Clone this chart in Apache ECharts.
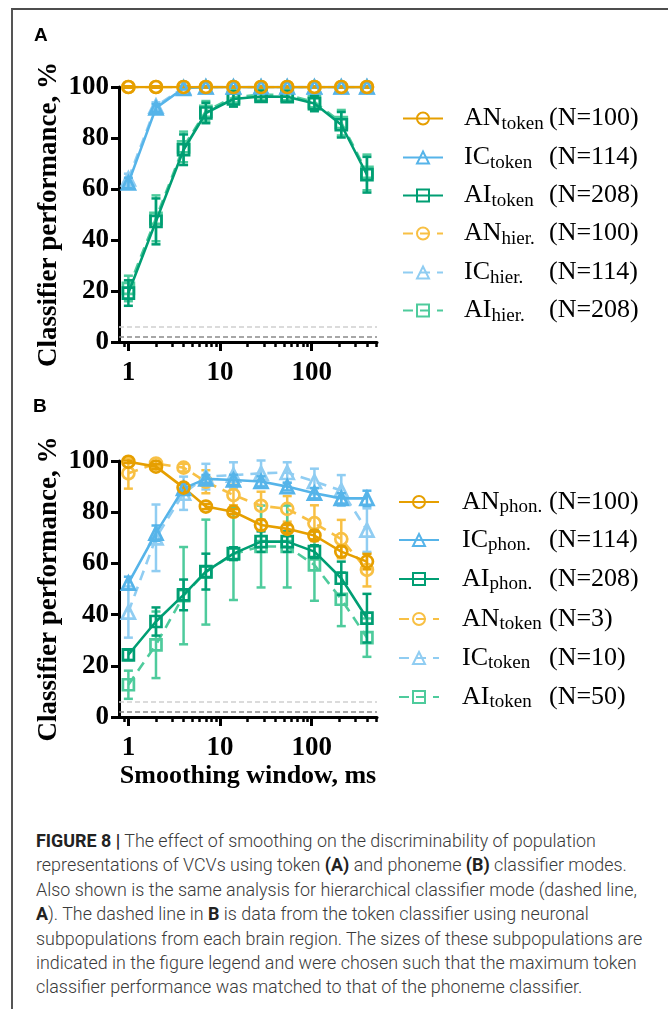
<!DOCTYPE html>
<html>
<head>
<meta charset="utf-8">
<title>Figure 8 - smoothing</title>
<script src="https://cdn.jsdelivr.net/npm/echarts@6/dist/echarts.min.js"></script>
<style>
	body { margin: 0; background: #fff; }
	#frame { position: absolute; left: 11px; top: 8px; width: 680px; height: 1020px; border-top: 2px solid #4d4d4d; border-left: 2px solid #555; }
	#chart { position: absolute; left: 0; top: 0; width: 668px; height: 800px; }
	#caption { position: absolute; left: 36px; top: 829px; font-family: Roboto, 'Liberation Sans', sans-serif; font-weight: 300; font-size: 17.9px; line-height: 24.4px; color: #3a3a3a; white-space: nowrap; }
	#caption b { font-weight: 700; color: #222; }
</style>
</head>
<body>
	<div id="frame"></div>
	<div id="chart"></div>
	<div id="caption">
		<b>FIGURE 8 |</b> The effect of smoothing on the discriminability of population<br>
		representations of VCVs using token <b>(A)</b> and phoneme <b>(B)</b> classifier modes.<br>
		Also shown is the same analysis for hierarchical classifier mode (dashed line,<br>
		<b>A</b>). The dashed line in <b>B</b> is data from the token classifier using neuronal<br>
		subpopulations from each brain region. The sizes of these subpopulations are<br>
		indicated in the figure legend and were chosen such that the maximum token<br>
		classifier performance was matched to that of the phoneme classifier.
	</div>
	<script>
		// smoothing windows (ms)
		var windowsMs = [1, 2, 4, 7, 14, 28, 54, 107, 210, 400];
		var majorTicks = [1, 10, 100];
		var minorTicks = [0.9, 2, 3, 4, 5, 6, 7, 8, 9, 20, 30, 40, 50, 60, 70, 80, 90, 200, 300, 400, 500];
		var chanceLevels = [5.9, 1.9];

		// panel A: token classifier (solid) and hierarchical (dashed)
		var anTokenA    = [100, 100, 100, 100, 100, 100, 100, 100, 100, 100];
		var anTokenAErr = [0.3, 0.3, 0.3, 0.3, 0.3, 0.3, 0.3, 0.3, 0.3, 0.3];
		var icTokenA    = [62.4, 91.8, 99.5, 100, 100, 100, 100, 100, 100, 100];
		var icTokenAErr = [2, 1.5, 0.5, 0.3, 0.3, 0.3, 0.3, 0.3, 0.3, 0.3];
		var aiTokenA    = [19.2, 47.3, 75.4, 89.8, 95.3, 96.3, 96.2, 93.5, 85.2, 65.6];
		var aiTokenAErr = [5, 9, 6, 4, 3, 2, 2, 3, 5, 7];
		var anHierA     = [100, 100, 100, 100, 100, 100, 100, 100, 100, 100];
		var anHierAErr  = [0.3, 0.3, 0.3, 0.3, 0.3, 0.3, 0.3, 0.3, 0.3, 0.3];
		var icHierA     = [64, 92.5, 99.8, 100, 100, 100, 100, 100, 100, 100];
		var icHierAErr  = [2, 1.5, 0.5, 0.3, 0.3, 0.3, 0.3, 0.3, 0.3, 0.3];
		var aiHierA     = [21, 48.5, 76.5, 90.5, 96, 97, 96.8, 94.2, 86, 66.5];
		var aiHierAErr  = [5, 9, 6, 4, 3, 2, 2, 3, 5, 7];

		// panel B: phoneme classifier (solid) and token classifier on subpopulations (dashed)
		var anPhonB    = [99.7, 97.8, 89.6, 82.2, 80.2, 75.0, 73.5, 70.9, 64.6, 60.7];
		var anPhonBErr = [0.5, 1, 1.5, 1, 1, 2, 1.5, 1.5, 2, 3];
		var icPhonB    = [52.3, 71.8, 89.3, 93.0, 92.6, 92.0, 90.0, 87.4, 85.4, 85.4];
		var icPhonBErr = [2.5, 3, 2, 1.5, 2, 2, 1.5, 2, 2, 3];
		var aiPhonB    = [24.3, 37.3, 47.7, 56.8, 63.8, 68.5, 68.5, 64.6, 54.2, 38.6];
		var aiPhonBErr = [2, 5.5, 6, 7, 2.5, 4, 4, 2.5, 6.5, 9.5];
		var anTokB     = [95.2, 99.0, 97.4, 91.9, 86.7, 82.5, 81.3, 75.7, 69.5, 57.5];
		var anTokBErr  = [6, 1, 1.5, 4.5, 4, 5.5, 5, 7, 7.5, 6.5];
		var icTokB     = [41, 70, 87.4, 93.9, 94.5, 95.2, 95.5, 92, 88.5, 73];
		var icTokBErr  = [10, 13, 6.5, 5, 5, 5, 4, 5, 6, 8.5];
		var aiTokB     = [12.6, 28.2, 47.4, 56.6, 63.7, 66.6, 66.6, 59.4, 46, 31];
		var aiTokBErr  = [5.5, 13, 19, 20.5, 18, 16, 16, 14, 10.5, 7.5];

		// legend texts
		var legendMainA = ['AN', 'IC', 'AI', 'AN', 'IC', 'AI'];
		var legendSubA  = ['token', 'token', 'token', 'hier.', 'hier.', 'hier.'];
		var legendNA    = ['(N=100)', '(N=114)', '(N=208)', '(N=100)', '(N=114)', '(N=208)'];
		var legendMainB = ['AN', 'IC', 'AI', 'AN', 'IC', 'AI'];
		var legendSubB  = ['phon.', 'phon.', 'phon.', 'token', 'token', 'token'];
		var legendNB    = ['(N=100)', '(N=114)', '(N=208)', '(N=3)', '(N=10)', '(N=50)'];

		var serif = "'Liberation Serif', 'DejaVu Serif', serif";
		var colAN = '#E69F00', colIC = '#56B4E9', colAI = '#009E73';
		var colANl = '#F8C044', colICl = '#90CDF2', colAIl = '#4ECB9C';

		var ctx = document.createElement('canvas').getContext('2d');
		function textW(str, font) { ctx.font = font; return ctx.measureText(str).width; }

		function pairs(ys) {
			return windowsMs.map(function (x, i) { return [x, ys[i]]; });
		}
		function errData(ys, errs) {
			return windowsMs.map(function (x, i) { return [x, ys[i] - errs[i], ys[i] + errs[i]]; });
		}
		function renderErr(params, api) {
			var lo = api.coord([api.value(0), api.value(1)]);
			var hi = api.coord([api.value(0), api.value(2)]);
			var st = { stroke: api.visual('color'), lineWidth: 2.5 };
			var cap = 4.5;
			return { type: 'group', children: [
				{ type: 'line', shape: { x1: lo[0], y1: lo[1], x2: hi[0], y2: hi[1] }, style: st },
				{ type: 'line', shape: { x1: lo[0] - cap, y1: lo[1], x2: lo[0] + cap, y2: lo[1] }, style: st },
				{ type: 'line', shape: { x1: hi[0] - cap, y1: hi[1], x2: hi[0] + cap, y2: hi[1] }, style: st }
			]};
		}

		var symSize = { circle: 12, triangle: 13, rect: 11 };

		function lineSeries(name, ys, color, dashed, symbol, ai) {
			return {
				name: name, type: 'line', xAxisIndex: ai * 2, yAxisIndex: ai,
				data: pairs(ys),
				symbol: symbol, symbolSize: symSize[symbol],
				lineStyle: { color: color, width: 2.6, type: dashed ? [10, 7] : 'solid' },
				itemStyle: { color: 'rgba(255,255,255,0)', borderColor: color, borderWidth: 2.7 },
				z: dashed ? 2 : 4
			};
		}
		function errSeries(ys, errs, color, dashed, ai) {
			return {
				type: 'custom', xAxisIndex: ai * 2, yAxisIndex: ai,
				data: errData(ys, errs),
				encode: { x: 0, y: [1, 2] },
				renderItem: renderErr,
				itemStyle: { color: color },
				silent: true,
				z: dashed ? 1 : 3
			};
		}

		function xAxes(gi, withName) {
			return [{
				type: 'log', logBase: 10, gridIndex: gi, min: 0.79, max: 515,
				axisLine: { lineStyle: { color: '#000', width: 3 } },
				axisTick: { customValues: majorTicks, length: 9, lineStyle: { color: '#000', width: 3 } },
				axisLabel: { customValues: majorTicks, margin: 18, color: '#000', fontFamily: serif, fontWeight: 'bold', fontSize: 27 },
				splitLine: { show: false },
				name: withName ? 'Smoothing window, ms' : '',
				nameLocation: 'middle', nameGap: 43,
				nameTextStyle: { color: '#000', fontFamily: serif, fontWeight: 'bold', fontSize: 26 }
			}, {
				type: 'log', logBase: 10, gridIndex: gi, min: 0.79, max: 515, position: 'bottom',
				axisLine: { show: false },
				axisTick: { customValues: minorTicks, length: 5, lineStyle: { color: '#000', width: 2.5 } },
				axisLabel: { show: false },
				splitLine: { show: false }
			}];
		}
		function yAxis(gi) {
			return {
				type: 'value', gridIndex: gi, min: 0, max: 100, interval: 20,
				axisLine: { show: true, lineStyle: { color: '#000', width: 3 } },
				axisTick: { show: true, length: 8, lineStyle: { color: '#000', width: 3 } },
				axisLabel: { margin: 10, color: '#000', fontFamily: serif, fontWeight: 'bold', fontSize: 27 },
				splitLine: { show: false },
				name: 'Classifier performance, %', nameLocation: 'middle', nameRotate: 90, nameGap: 56,
				nameTextStyle: { color: '#000', fontFamily: serif, fontWeight: 'bold', fontSize: 27 }
			};
		}

		// one legend per row, so every row sits at its own height
		function rowLegend(name, main, sub, n, left, center, pad, target) {
			var mw = textW(main, '26px ' + serif);
			return {
				data: [name], left: left, top: center - 12.5, padding: 0,
				itemWidth: 40, itemHeight: 15,
				selectedMode: false,
				formatter: '{m|' + main + '}{s|' + sub + '}{n|' + n + '}',
				textStyle: { rich: {
					m: { fontFamily: serif, fontSize: 26, lineHeight: 30, color: '#000', padding: [0, 0, 0, pad] },
					s: { fontFamily: serif, fontSize: 19, lineHeight: 16, verticalAlign: 'bottom', color: '#000', width: Math.max(target - mw, 10) },
					n: { fontFamily: serif, fontSize: 26, lineHeight: 30, color: '#000' }
				} }
			};
		}

		var namesA = ['AN token A', 'IC token A', 'AI token A', 'AN hier A', 'IC hier A', 'AI hier A'];
		var namesB = ['AN phon B', 'IC phon B', 'AI phon B', 'AN token B', 'IC token B', 'AI token B'];
		var rowsA = [118, 157, 195, 233, 272, 310];
		var rowsB = [501, 539, 578, 618, 657, 696];

		var legends = [];
		namesA.forEach(function (nm, i) {
			legends.push(rowLegend(nm, legendMainA[i], legendSubA[i], legendNA[i], 402, rowsA[i], 16, 85));
		});
		namesB.forEach(function (nm, i) {
			legends.push(rowLegend(nm, legendMainB[i], legendSubB[i], legendNB[i], 398, rowsB[i] + 0.5, 18, 87));
		});

		var chanceLine = {
			silent: true, symbol: 'none', label: { show: false }, animation: false,
			lineStyle: { type: [5, 3], width: 1.5 },
			data: [
				{ yAxis: chanceLevels[0], lineStyle: { color: '#cfcfcf' } },
				{ yAxis: chanceLevels[1], lineStyle: { color: '#8a8a8a' } }
			]
		};

		var series = [
			// panel A
			errSeries(anHierA, anHierAErr, colANl, true, 0),
			errSeries(icHierA, icHierAErr, colICl, true, 0),
			errSeries(aiHierA, aiHierAErr, colAIl, true, 0),
			lineSeries(namesA[3], anHierA, colANl, true, 'circle', 0),
			lineSeries(namesA[4], icHierA, colICl, true, 'triangle', 0),
			lineSeries(namesA[5], aiHierA, colAIl, true, 'rect', 0),
			errSeries(aiTokenA, aiTokenAErr, colAI, false, 0),
			errSeries(icTokenA, icTokenAErr, colIC, false, 0),
			errSeries(anTokenA, anTokenAErr, colAN, false, 0),
			lineSeries(namesA[2], aiTokenA, colAI, false, 'rect', 0),
			lineSeries(namesA[1], icTokenA, colIC, false, 'triangle', 0),
			lineSeries(namesA[0], anTokenA, colAN, false, 'circle', 0),
			// panel B
			errSeries(anTokB, anTokBErr, colANl, true, 1),
			errSeries(icTokB, icTokBErr, colICl, true, 1),
			errSeries(aiTokB, aiTokBErr, colAIl, true, 1),
			lineSeries(namesB[3], anTokB, colANl, true, 'circle', 1),
			lineSeries(namesB[4], icTokB, colICl, true, 'triangle', 1),
			lineSeries(namesB[5], aiTokB, colAIl, true, 'rect', 1),
			errSeries(aiPhonB, aiPhonBErr, colAI, false, 1),
			errSeries(icPhonB, icPhonBErr, colIC, false, 1),
			errSeries(anPhonB, anPhonBErr, colAN, false, 1),
			lineSeries(namesB[2], aiPhonB, colAI, false, 'rect', 1),
			lineSeries(namesB[1], icPhonB, colIC, false, 'triangle', 1),
			lineSeries(namesB[0], anPhonB, colAN, false, 'circle', 1)
		];
		series[3].markLine = chanceLine;
		series[15].markLine = chanceLine;

		var option = {
			animation: false,
			grid: [
				{ left: 119, top: 87, width: 258, height: 255 },
				{ left: 119, top: 461, width: 258, height: 256 }
			],
			xAxis: xAxes(0, false).concat(xAxes(1, true)),
			yAxis: [yAxis(0), yAxis(1)],
			legend: legends,
			graphic: [
				{ type: 'text', left: 34, top: 26, style: { text: 'A', font: "bold 19px 'Liberation Sans', Arial, sans-serif", fill: '#000' } },
				{ type: 'text', left: 33, top: 397, style: { text: 'B', font: "bold 19px 'Liberation Sans', Arial, sans-serif", fill: '#000' } }
			],
			series: series
		};

		var chart = echarts.init(document.getElementById('chart'));
		chart.setOption(option);
	</script>
</body>
</html>
